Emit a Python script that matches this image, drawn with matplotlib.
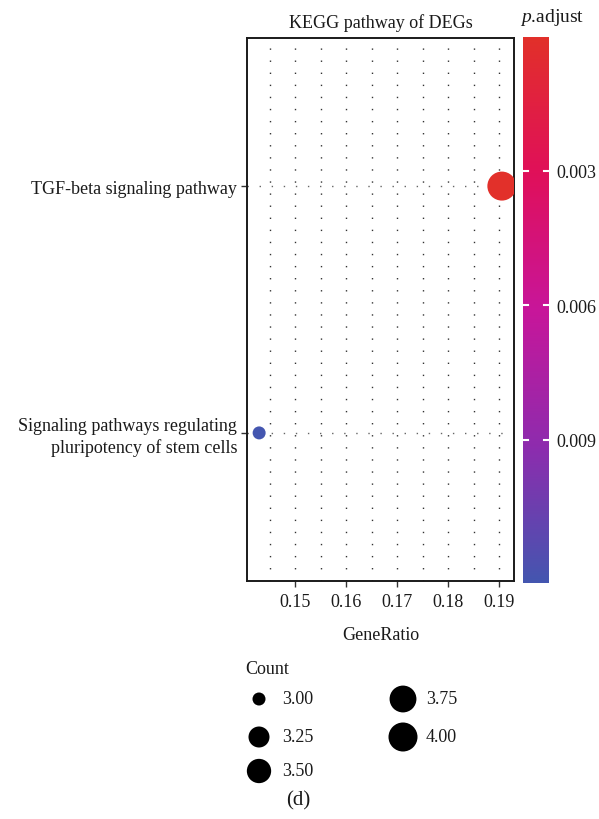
import numpy as np
import matplotlib
matplotlib.use("Agg")
import matplotlib.pyplot as plt
from matplotlib.colors import LinearSegmentedColormap, Normalize

# ---------------- data ----------------
pathways = ["TGF-beta signaling pathway",
            "Signaling pathways regulating\npluripotency of stem cells"]
gene_ratio = [0.1905, 0.1429]
counts = [4, 3]
p_adjust = [0.00002, 0.0122]
count_breaks = [3.00, 3.25, 3.50, 3.75, 4.00]
x_ticks = [0.15, 0.16, 0.17, 0.18, 0.19]
cbar_ticks = [0.003, 0.006, 0.009]

plt.rcParams['font.family'] = ['Liberation Serif', 'DejaVu Serif']
plt.rcParams['mathtext.fontset'] = 'custom'
plt.rcParams['mathtext.rm'] = 'Liberation Serif'
plt.rcParams['mathtext.it'] = 'Liberation Serif:italic'
plt.rcParams['lines.scale_dashes'] = False

W, H = 599, 820
DPI = 100
fig = plt.figure(figsize=(W / DPI, H / DPI), dpi=DPI)

def fx(px):
    return px / W

def fy(py):
    return 1 - py / H

FS = 13
TXT = '#1a1a1a'

# colormap: low p.adjust red -> high blue
cmap = LinearSegmentedColormap.from_list(
    'padj', [(0.0, '#E2302A'), (0.25, '#E0105A'), (0.5, '#C8169A'),
             (0.75, '#8E2CAE'), (1.0, '#4456B0')])
norm = Normalize(vmin=min(p_adjust), vmax=max(p_adjust))

cmin, cmax = min(counts), max(counts)

def size_px(c):
    return 13 + 16 * np.sqrt((c - cmin) / (cmax - cmin))

def s_pt2(c):
    return (np.asarray(size_px(np.asarray(c, float))) * 72 / DPI) ** 2

# ---------------- main axes ----------------
ax_l, ax_r, ax_t, ax_b = 247, 514, 39, 582
ax = fig.add_axes([fx(ax_l), fy(ax_b), fx(ax_r - ax_l), (ax_b - ax_t) / H])

ypos = np.arange(len(pathways))[::-1] + 1.0  # TGF on top
xmin, xmax = min(gene_ratio), max(gene_ratio)
pad = 0.05 * (xmax - xmin)
ax.set_xlim(xmin - pad, xmax + pad)
ax.set_ylim(0.4, len(pathways) + 0.6)

# dotted grid
grid_x = np.arange(0.145, 0.19 + 1e-9, 0.005)
for gx in grid_x:
    ax.axvline(gx, color='#333333', lw=1.0, linestyle=(0, (1.0, 7.7)), zorder=0)
for gy in ypos:
    ax.axhline(gy, color='#666666', lw=1.0, linestyle=(0, (1.0, 7.7)), zorder=0)

ax.scatter(gene_ratio, ypos, s=s_pt2(counts), c=p_adjust, cmap=cmap, norm=norm,
           edgecolors='none', zorder=3)

ax.set_xticks(x_ticks)
ax.set_xticklabels([f"{t:.2f}" for t in x_ticks], fontsize=FS, color=TXT)
ax.set_yticks(ypos)
ax.set_yticklabels(pathways, fontsize=FS, color=TXT, linespacing=1.25)
ax.tick_params(axis='both', length=4, width=1.0, color='#333333', pad=3)
ax.tick_params(axis='x', pad=5)
for sp in ax.spines.values():
    sp.set_linewidth(1.4)
    sp.set_color('#1a1a1a')

ax.set_title("KEGG pathway of DEGs", fontsize=FS, color=TXT, pad=8)
ax.set_xlabel("GeneRatio", fontsize=FS, color=TXT, labelpad=11)

# ---------------- colorbar ----------------
cb_l, cb_r, cb_t, cb_b = 523, 549, 38, 584
cax = fig.add_axes([fx(cb_l), fy(cb_b), fx(cb_r - cb_l), (cb_b - cb_t) / H])
grad = np.linspace(min(p_adjust), max(p_adjust), 256).reshape(-1, 1)
cax.imshow(grad, aspect='auto', cmap=cmap, norm=norm,
           extent=[0, 1, max(p_adjust), min(p_adjust)], origin='upper')
cax.set_ylim(max(p_adjust), min(p_adjust))
cax.set_xlim(0, 1)
cax.set_xticks([])
cax.yaxis.tick_right()
cax.set_yticks(cbar_ticks)
cax.set_yticklabels([f"{t:.3f}" for t in cbar_ticks], fontsize=FS, color=TXT)
cax.tick_params(axis='y', length=0, pad=5)
for t in cbar_ticks:
    cax.plot([0, 0.2], [t, t], color='white', lw=1.5)
    cax.plot([0.8, 1], [t, t], color='white', lw=1.5)
for sp in cax.spines.values():
    sp.set_visible(False)
fig.text(fx(520), fy(18), r"$p$.adjust", fontsize=FS + 1, color=TXT,
         ha='left', va='center')

# ---------------- size legend ----------------
fig.text(fx(245), fy(670), "Count", fontsize=FS, color=TXT, ha='left', va='center')
lax = fig.add_axes([0, 0, 1, 1])
lax.set_xlim(0, W)
lax.set_ylim(H, 0)
lax.axis('off')
rows = [700, 738, 772]
cols = [259, 403]
for i, c in enumerate(count_breaks):
    col, row = divmod(i, 3)
    lax.scatter([cols[col]], [rows[row]], s=s_pt2([c]), color='black',
                edgecolors='none')
    lax.text(cols[col] + 23, rows[row], f"{c:.2f}", fontsize=FS, color=TXT,
             ha='left', va='center')

fig.text(fx(298), fy(801), "(d)", fontsize=FS + 2, color=TXT, ha='center',
         va='center')

fig.savefig("out.png", dpi=DPI)
